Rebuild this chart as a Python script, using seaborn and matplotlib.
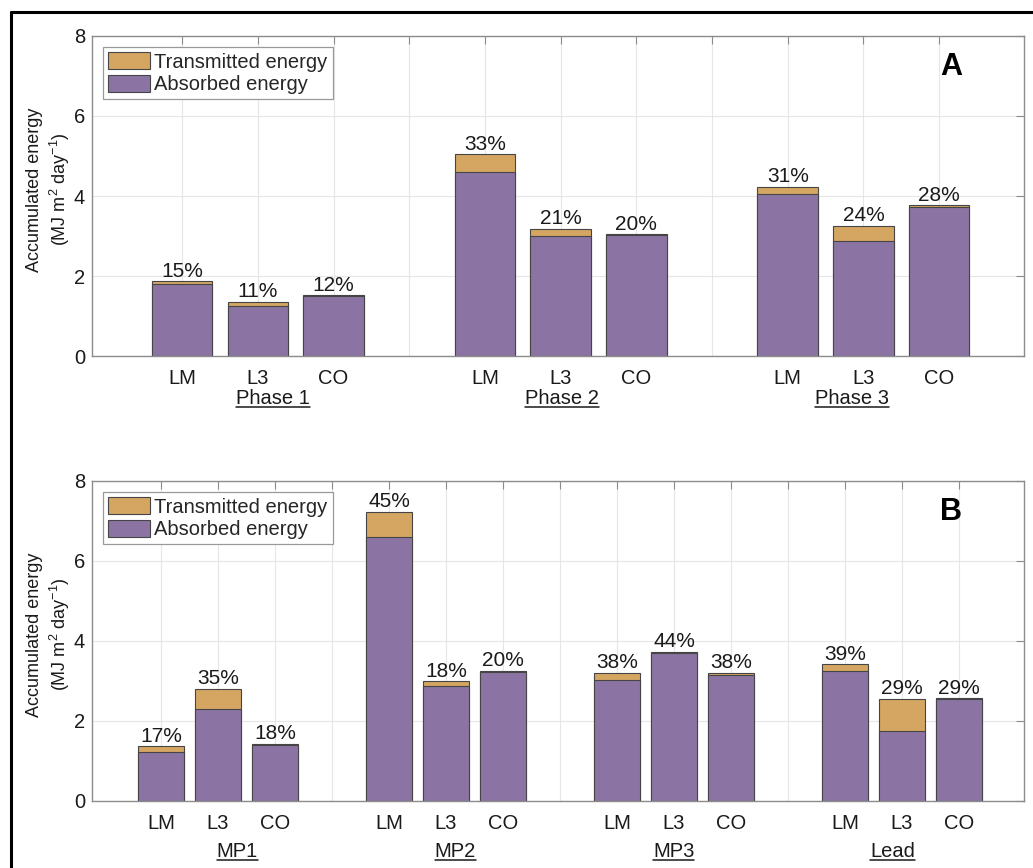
import numpy as np
import pandas as pd
import matplotlib
matplotlib.use("Agg")
import matplotlib.pyplot as plt
from matplotlib.lines import Line2D
from matplotlib.transforms import offset_copy
import seaborn as sns

# ---------------- data ----------------
instruments = ["LM", "L3", "CO"]

phase_groups = ["Phase 1", "Phase 2", "Phase 3"]
phase_absorbed = [1.80, 1.25, 1.50, 4.59, 3.00, 3.02, 4.04, 2.88, 3.72]
phase_total = [1.87, 1.36, 1.52, 5.04, 3.18, 3.04, 4.23, 3.26, 3.77]
phase_pct = ["15%", "11%", "12%", "33%", "21%", "20%", "31%", "24%", "28%"]

mp_groups = ["MP1", "MP2", "MP3", "Lead"]
mp_absorbed = [1.22, 2.29, 1.41, 6.60, 2.87, 3.22, 3.02, 3.70, 3.15, 3.25, 1.75, 2.54]
mp_total = [1.37, 2.80, 1.43, 7.23, 2.99, 3.26, 3.20, 3.73, 3.20, 3.42, 2.56, 2.57]
mp_pct = ["17%", "35%", "18%", "45%", "18%", "20%", "38%", "44%", "38%", "39%", "29%", "29%"]

yticks = [0, 2, 4, 6, 8]

# ---------------- style ----------------
sns.set_style("white")
plt.rcParams["font.family"] = ["Liberation Sans", "DejaVu Sans"]
plt.rcParams["mathtext.fontset"] = "custom"
plt.rcParams["mathtext.rm"] = "Liberation Sans"
plt.rcParams["mathtext.it"] = "Liberation Sans:italic"
plt.rcParams["mathtext.bf"] = "Liberation Sans:bold"

TAN = "#D4A662"
PURPLE = "#8B74A3"
EDGE = "#454545"
SPINE = "#8c8c8c"
GRID = "#e6e6e6"
TXT = "#1a1a1a"

W, H = 1033, 868
fig = plt.figure(figsize=(W / 100, H / 100), dpi=100)
fig.patch.set_facecolor("white")


def make_frame(groups, absorbed, total, pct):
    rows = []
    for gi, g in enumerate(groups):
        for ii, inst in enumerate(instruments):
            k = gi * 3 + ii
            rows.append(dict(group=g, inst=inst, pos=gi * 4 + ii + 1,
                             absorbed=absorbed[k], total=total[k], pct=pct[k]))
    return pd.DataFrame(rows)


group_texts = []


def draw_panel(ax, df, groups, letter, xlim, group_fracs, group_off_px):
    sns.barplot(data=df, x="pos", y="total", native_scale=True, width=0.8,
                color=TAN, saturation=1, edgecolor=EDGE, linewidth=0.8,
                errorbar=None, orient="x", label="Transmitted energy", ax=ax)
    sns.barplot(data=df, x="pos", y="absorbed", native_scale=True, width=0.8,
                color=PURPLE, saturation=1, edgecolor=EDGE, linewidth=0.8,
                errorbar=None, orient="x", label="Absorbed energy", ax=ax)
    ax.bar_label(ax.containers[0], labels=list(df["pct"]), padding=0.5,
                 fontsize=15, color=TXT)

    n = len(groups) * 4 - 1
    ticks = np.arange(1, n + 1)
    labels = [instruments[(p - 1) % 4] if p % 4 != 0 else "" for p in ticks]
    ax.set_xticks(ticks)
    ax.set_xticklabels(labels)
    ax.set_xlim(*xlim)
    ax.set_ylim(0, 8)
    ax.set_yticks(yticks)
    ax.set_xlabel("")
    ax.set_ylabel("Accumulated energy\n(MJ m$^2$ day$^{-1}$)", fontsize=13,
                  color=TXT, linespacing=1.3)
    ax.yaxis.set_label_coords(-0.021, 0.52)

    ax.grid(True, color=GRID, linewidth=0.8)
    ax.set_axisbelow(True)
    for s in ax.spines.values():
        s.set_visible(True)
        s.set_color(SPINE)
        s.set_linewidth(1.0)
    ax.tick_params(direction="in", length=6, width=0.8, color=SPINE,
                   top=True, right=True, labelsize=14.5, labelcolor=TXT)
    ax.tick_params(axis="x", pad=9.5)
    ax.tick_params(axis="y", pad=5)

    leg = ax.legend(loc="upper left", fontsize=14.5, frameon=True, fancybox=False,
                    edgecolor="#999999", framealpha=1, borderpad=0.25,
                    labelspacing=0.15, handlelength=2.1, handleheight=0.95,
                    handletextpad=0.2, borderaxespad=0.55)
    leg.get_frame().set_linewidth(0.9)

    ax.text(0.922, 0.902, letter, transform=ax.transAxes, ha="center",
            va="center", fontsize=22, fontweight="bold", color="black")

    trans = offset_copy(ax.transAxes, fig=fig, x=0, y=-group_off_px * 0.72,
                        units="points")
    for frac, g in zip(group_fracs, groups):
        t = ax.text(frac, 0, g, transform=trans, ha="center", va="baseline",
                    fontsize=14.5, color=TXT)
        group_texts.append((t, trans, frac))


axA = fig.add_axes([92 / W, 1 - 356 / H, 932 / W, 320 / H])
axB = fig.add_axes([92 / W, 1 - 801 / H, 932 / W, 320 / H])

draw_panel(axA, make_frame(phase_groups, phase_absorbed, phase_total, phase_pct),
           phase_groups, "A", (-0.19, 12.12), [0.194, 0.504, 0.815], 48)
draw_panel(axB, make_frame(mp_groups, mp_absorbed, mp_total, mp_pct),
           mp_groups, "B", (-0.21, 16.14), [0.156, 0.390, 0.624, 0.859], 56)

# underline group labels
fig.canvas.draw()
renderer = fig.canvas.get_renderer()
inv = fig.transFigure.inverted()
for t, trans, frac in group_texts:
    bb = t.get_window_extent(renderer)
    base_y = trans.transform((frac, 0))[1] - 3
    p0 = inv.transform((bb.x0, base_y))
    p1 = inv.transform((bb.x1, base_y))
    fig.add_artist(Line2D([p0[0], p1[0]], [p0[1], p1[1]], color=TXT,
                          linewidth=1.1, transform=fig.transFigure))

# outer frame (left and top edges visible)
fig.add_artist(Line2D([10.5 / W, 10.5 / W], [0, 1 - 11.5 / H], color="black",
                      linewidth=2.2, transform=fig.transFigure))
fig.add_artist(Line2D([10.5 / W, 1], [1 - 11.5 / H, 1 - 11.5 / H], color="black",
                      linewidth=2.2, transform=fig.transFigure))

fig.savefig("out.png", dpi=100)
